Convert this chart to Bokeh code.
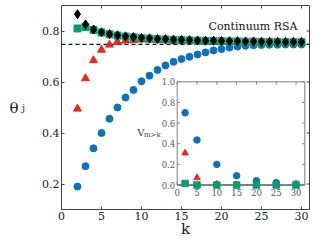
from bokeh.plotting import figure
from bokeh.models import Range1d, LinearAxis, FixedTicker, Span, Label
from bokeh.embed import file_html
from bokeh.resources import INLINE
from bokeh.core.properties import value

# ---------------- data ----------------
k = list(range(2, 31))
theta_blue = [0.190, 0.270, 0.340, 0.400, 0.456, 0.500, 0.539, 0.569, 0.603, 0.625,
              0.647, 0.665, 0.679, 0.690, 0.699, 0.708, 0.716, 0.724, 0.729, 0.735,
              0.739, 0.742, 0.744, 0.745, 0.746, 0.746, 0.747, 0.747, 0.747]
theta_red = [0.495, 0.614, 0.685, 0.726, 0.746, 0.757, 0.762, 0.764, 0.766, 0.766,
             0.765, 0.764, 0.763, 0.762, 0.761, 0.760, 0.759, 0.759, 0.758, 0.757,
             0.757, 0.756, 0.756, 0.756, 0.755, 0.755, 0.755, 0.754, 0.754]
theta_green = [0.810, 0.815, 0.804, 0.794, 0.787, 0.782, 0.778, 0.775, 0.772, 0.770,
               0.768, 0.767, 0.765, 0.764, 0.763, 0.762, 0.761, 0.761, 0.760, 0.759,
               0.759, 0.758, 0.758, 0.757, 0.757, 0.757, 0.756, 0.756, 0.756]
theta_black = [0.866, 0.826, 0.806, 0.795, 0.788, 0.783, 0.779, 0.776, 0.773, 0.771,
               0.769, 0.768, 0.766, 0.765, 0.764, 0.763, 0.762, 0.762, 0.761, 0.760,
               0.760, 0.759, 0.759, 0.758, 0.758, 0.758, 0.757, 0.757, 0.757]
continuum_rsa = 0.7476

inset_k = [2, 5, 10, 15, 20, 25, 30]
inset_blue = [0.70, 0.436, 0.20, 0.09, 0.042, 0.023, 0.010]
inset_red = [0.31, 0.07, 0.008, 0.0, 0.0, 0.0, 0.0]
inset_green = [0.015, 0.0, 0.0, 0.0, 0.0, 0.0, 0.0]

x_ticks = [0, 5, 10, 15, 20, 25, 30]
y_ticks = [0.2, 0.4, 0.6, 0.8]
inset_x_ticks = [0, 5, 10, 15, 20, 25, 30]
inset_y_ticks = [0.0, 0.2, 0.4, 0.6, 0.8, 1.0]
inset_y_labels = ["0.0", "0.2", "0.4", "0.6", "0.8", "1.0"]
inset_x_labels = [str(t) for t in inset_x_ticks]

# ---------------- style ----------------
SERIF = "DejaVu Serif"
BLUE = "#0A72BC"
RED = "#E8281C"
GREEN = "#0B9A70"
FRAME = "#444444"
IGRAY = "#808080"
TXT = "#222222"

XR = (0, 31)
YR = (0.1, 0.9)
IXR = (0, 32.2)
IYR = (0, 1.0)
# inset box expressed as fractions of the main frame
FX0, FX1 = 0.4665, 0.981
FY0, FY1 = 0.12, 0.626


def ext_range(lo, hi, f0, f1):
    span = (hi - lo) / (f1 - f0)
    start = lo - f0 * span
    return Range1d(start, start + span)


p = figure(width=320, height=240, x_range=Range1d(*XR), y_range=Range1d(*YR),
           output_backend="svg", toolbar_location=None,
           min_border_left=61, min_border_right=11, min_border_top=5,
           min_border_bottom=30)
p.extra_x_ranges = {"ix": ext_range(IXR[0], IXR[1], FX0, FX1)}
p.extra_y_ranges = {"iy": ext_range(IYR[0], IYR[1], FY0, FY1)}

p.background_fill_color = "white"
p.border_fill_color = "white"
p.outline_line_color = FRAME
p.outline_line_width = 1
p.grid.visible = False

for ax in (p.xaxis[0], p.yaxis[0]):
    ax.axis_line_color = None
    ax.major_tick_in = 3
    ax.major_tick_out = 0
    ax.major_tick_line_color = FRAME
    ax.minor_tick_line_color = None
    ax.major_label_text_font = SERIF
    ax.major_label_text_font_size = "11px"
    ax.major_label_text_color = TXT
    ax.major_label_standoff = 2
    ax.axis_label_text_font = SERIF
    ax.axis_label_text_font_style = "normal"
    ax.axis_label_text_color = TXT
p.xaxis[0].ticker = FixedTicker(ticks=x_ticks)
p.yaxis[0].ticker = FixedTicker(ticks=y_ticks)
p.xaxis[0].axis_label = "k"
p.xaxis[0].axis_label_text_font_size = "15px"
p.xaxis[0].axis_label_standoff = -3

# y label: theta with subscript j
p.yaxis[0].axis_label = "j"
p.yaxis[0].axis_label_text_font_size = "10px"
p.yaxis[0].axis_label_orientation = "horizontal"
p.yaxis[0].axis_label_standoff = 14
theta_ax = LinearAxis(ticker=FixedTicker(ticks=[]), axis_line_color=None,
                      major_tick_line_color=None, minor_tick_line_color=None,
                      major_label_standoff=0, axis_label="θ",
                      axis_label_text_font=SERIF, axis_label_text_font_size="15px",
                      axis_label_text_font_style="normal", axis_label_text_color=TXT,
                      axis_label_orientation="horizontal", axis_label_standoff=0)
p.add_layout(theta_ax, "left")

# inward ticks on top and right edges
tick_x = 0.375
tick_y = 0.0117
p.segment(x0=x_ticks, y0=[YR[1]] * len(x_ticks), x1=x_ticks,
          y1=[YR[1] - tick_y] * len(x_ticks), line_color=FRAME)
p.segment(x0=[XR[1]] * len(y_ticks), y0=y_ticks, x1=[XR[1] - tick_x] * len(y_ticks),
          y1=y_ticks, line_color=FRAME)

# dashed continuum line
p.add_layout(Span(location=continuum_rsa, dimension="width", line_color="black",
                  line_dash="4 3", line_width=1.2, level="underlay"))

# main series
p.scatter(k, theta_blue, marker="circle", size=7, color=BLUE)
p.scatter(k, theta_red, marker="triangle", size=8, color=RED)
p.scatter(k, theta_green, marker="square", size=7, color=GREEN)
p.scatter(k, theta_black, marker="diamond", size=9, color="black")

p.add_layout(Label(x=29.5, y=0.792, text="Continuum RSA", text_font=SERIF,
                   text_font_size="11px", text_align="right", text_color="#111111"))

# ---------------- inset ----------------
R = dict(x_range_name="ix", y_range_name="iy")
p.quad(left=[IXR[0]], right=[IXR[1]], bottom=[IYR[0]], top=[IYR[1]],
       fill_color="white", line_color=IGRAY, line_width=1, **R)
p.segment(x0=[IXR[0]], y0=[IYR[0]], x1=[IXR[1]], y1=[IYR[0]], line_color=IGRAY,
          line_width=2, **R)
tick_u = 0.7
tick_v = 0.028
nx, ny = len(inset_x_ticks), len(inset_y_ticks)
p.segment(x0=inset_x_ticks, y0=[IYR[0]] * nx, x1=inset_x_ticks, y1=[IYR[0] + tick_v] * nx,
          line_color=IGRAY, **R)
p.segment(x0=inset_x_ticks, y0=[IYR[1]] * nx, x1=inset_x_ticks, y1=[IYR[1] - tick_v] * nx,
          line_color=IGRAY, **R)
p.segment(x0=[IXR[0]] * ny, y0=inset_y_ticks, x1=[IXR[0] + tick_u] * ny, y1=inset_y_ticks,
          line_color=IGRAY, **R)
p.segment(x0=[IXR[1]] * ny, y0=inset_y_ticks, x1=[IXR[1] - tick_u] * ny, y1=inset_y_ticks,
          line_color=IGRAY, **R)
p.text(x=inset_x_ticks, y=[IYR[0]] * nx, text=inset_x_labels, y_offset=4,
       text_align="center", text_baseline="top", text_font=value(SERIF),
       text_font_size="8.5px", text_color="#555555", **R)
p.text(x=[IXR[0]] * ny, y=inset_y_ticks, text=inset_y_labels, x_offset=-2,
       text_align="right", text_baseline="middle", text_font=value(SERIF),
       text_font_size="8.5px", text_color="#555555", **R)

p.scatter(inset_k, inset_blue, marker="circle", size=6.5, color=BLUE, **R)
p.scatter(inset_k, inset_red, marker="triangle", size=6.5, color=RED, **R)
p.scatter(inset_k, inset_green, marker="square", size=6.5, color=GREEN, **R)

p.text(x=[-10.1], y=[0.51], text=["V"], text_align="left", text_baseline="middle",
       text_font=value(SERIF), text_font_size="10px", text_color="#444444", **R)
p.text(x=[-8.4], y=[0.48], text=["m>k"], text_align="left", text_baseline="middle",
       text_font=value(SERIF), text_font_size="7px", text_color="#444444", **R)

open("out.html", "w").write(file_html(p, INLINE))
